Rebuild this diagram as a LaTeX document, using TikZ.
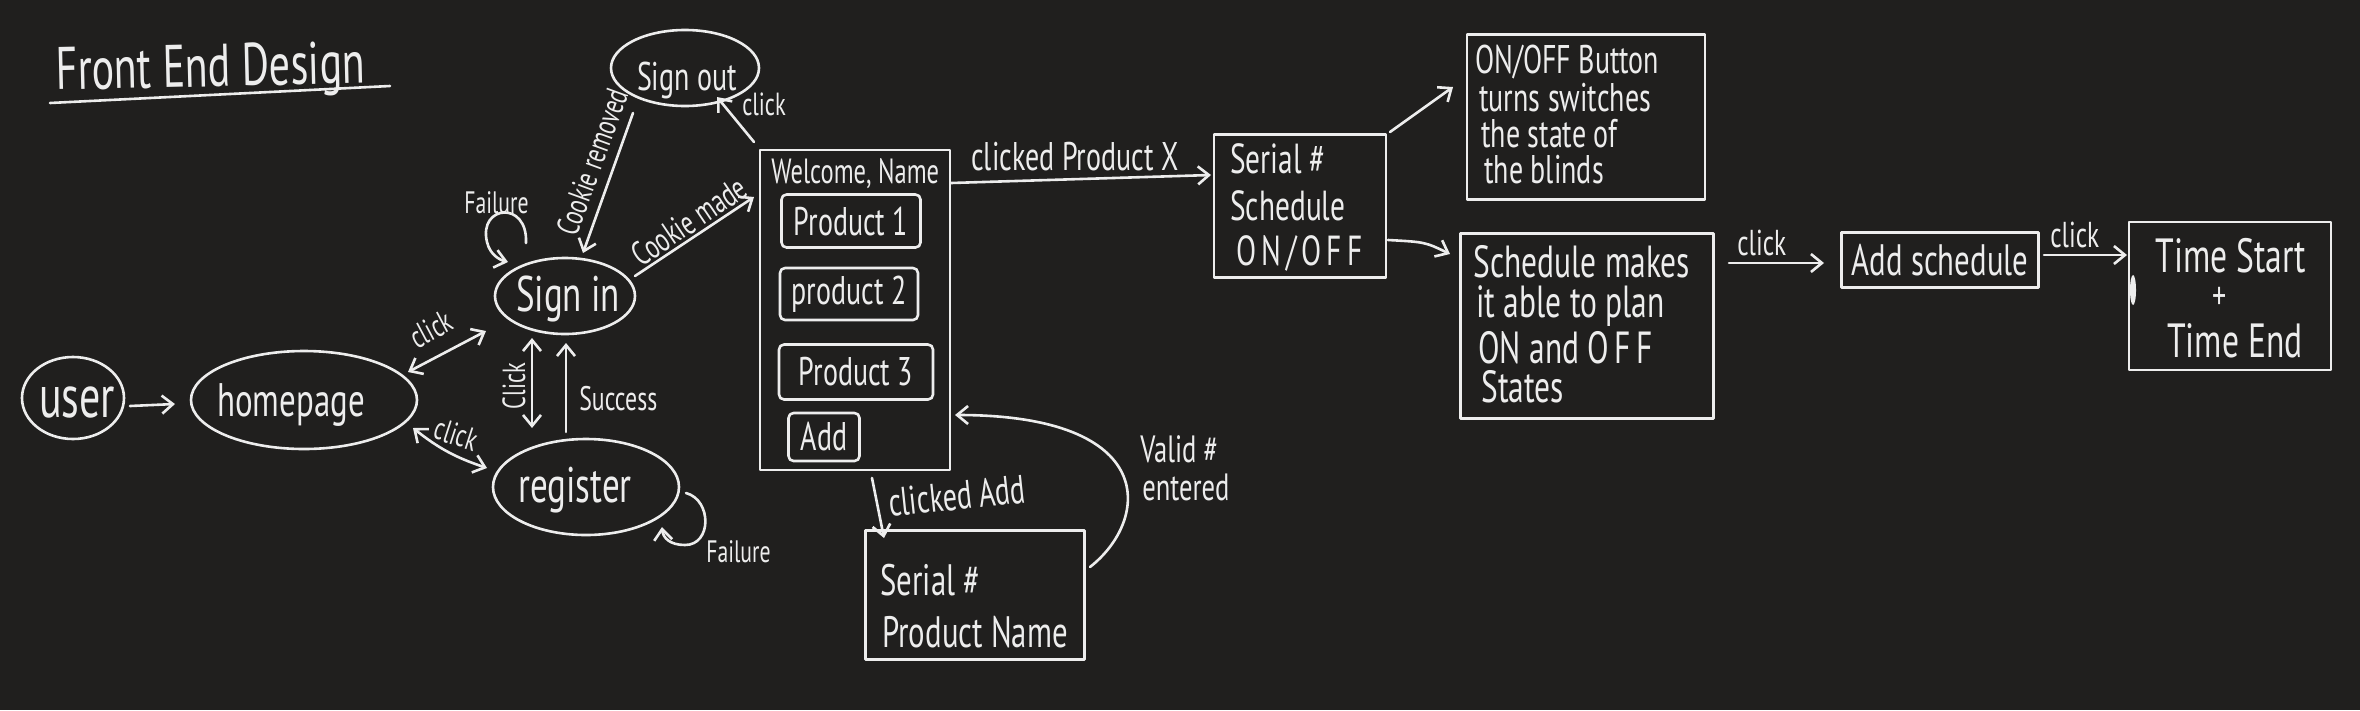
\documentclass[tikz,border=0pt]{standalone}
\usepackage{fontspec}
\setmainfont{PT Sans}[FakeStretch=0.7]
\usetikzlibrary{shapes.geometric,arrows.meta,calc}
\definecolor{bgc}{HTML}{201F1E}
\definecolor{ink}{HTML}{EDEDED}
\newcommand\hfsz[1]{\fontsize{#1}{#1}\selectfont}
\newcommand\spaced[1]{{\addfontfeature{LetterSpace=12}#1}}
\tikzset{
  txt/.style={text=ink, inner sep=0pt},
  ell/.style={ellipse, draw=ink, inner sep=0pt},
  box/.style={rectangle, draw=ink, inner sep=0pt, text=ink},
  pbox/.style={box, rounded corners=5pt},
  tip/.tip={Straight Barb[length=11pt,width=18pt]},
  arr/.style={-tip},
  darr/.style={tip-tip},
}
\begin{document}
\begin{tikzpicture}[x=1pt,y=-1pt, line width=2.6pt, draw=ink, line cap=round, line join=round]
\path[use as bounding box, fill=bgc] (0,0) rectangle (2360,710);

% title
\node[txt, font=\hfsz{60}, anchor=base west, rotate=1.3] (title) at (55,90) {Front End Design};
\draw ($(title.base west)+(-5,13)$) -- ($(title.base west)+(335,-4)$);

% ellipses
\node[ell, minimum width=102pt, minimum height=82pt] (user) at (73,398) {};
\node[txt, font=\hfsz{60}] (userT) at (77,402) {user};
\node[ell, minimum width=226pt, minimum height=98pt] (home) at (304,400) {};
\node[txt, font=\hfsz{47}] (homeT) at (291,405) {homepage};
\node[ell, minimum width=140pt, minimum height=76pt] (signin) at (565,296) {};
\node[txt, font=\hfsz{50}] (signinT) at (568,299) {Sign in};
\node[ell, minimum width=186pt, minimum height=96pt] (register) at (586,487) {};
\node[txt, font=\hfsz{50}] (registerT) at (575,490) {register};
\node[ell, minimum width=148pt, minimum height=76pt] (signout) at (685,68) {};
\node[txt, font=\hfsz{40}] (signoutT) at (687,80) {Sign out};

% welcome page
\node[box, minimum width=190pt, minimum height=320pt] (welcome) at (855,310) {};
\node[txt, font=\hfsz{35}, anchor=base west] (wtxt) at (770,183) {Welcome, Name};
\node[pbox, minimum width=139pt, minimum height=53pt, font=\hfsz{40}] (p1) at (851,221) {Product 1};
\node[pbox, minimum width=138pt, minimum height=52pt, font=\hfsz{40}] (p2) at (849,294) {product 2};
\node[pbox, minimum width=154pt, minimum height=55pt, font=\hfsz{40}] (p3) at (856,372) {Product 3};
\node[pbox, minimum width=71pt, minimum height=48pt, font=\hfsz{40}] (padd) at (824,437) {Add};

% serial / schedule box
\node[box, minimum width=172pt, minimum height=143pt] (serial) at (1300,206) {};
\node[txt, font=\hfsz{42}, anchor=base west] (s1) at (1229,173) {Serial \#};
\node[txt, font=\hfsz{42}, anchor=base west] (s2) at (1229,220) {Schedule};
\node[txt, font=\hfsz{42}, anchor=base west] (s3) at (1235,265) {\spaced{ON/OFF}};

% serial / product name box
\node[box, minimum width=219pt, minimum height=129pt] (serial2) at (975,595) {};
\node[txt, font=\hfsz{44}, anchor=base west] (t1) at (879,595) {Serial \#};
\node[txt, font=\hfsz{44}, anchor=base west] (t2) at (881,647) {Product Name};

% on/off box
\node[box, minimum width=238pt, minimum height=165pt] (onoff) at (1586,117) {};
\node[txt, font=\hfsz{40}, anchor=base west] (o1) at (1474,73) {ON/OFF Button};
\node[txt, font=\hfsz{40}, anchor=base west] (o2) at (1478,111) {turns switches};
\node[txt, font=\hfsz{40}, anchor=base west] (o3) at (1480,147) {the state of};
\node[txt, font=\hfsz{40}, anchor=base west] (o4) at (1483,183) {the blinds};

% schedule box
\node[box, minimum width=253pt, minimum height=185pt] (schedule) at (1587,326) {};
\node[txt, font=\hfsz{45}, anchor=base west] (c1) at (1472,277) {Schedule makes};
\node[txt, font=\hfsz{45}, anchor=base west] (c2) at (1475,317) {it able to plan};
\node[txt, font=\hfsz{45}, anchor=base west] (c3) at (1477,363) {ON and \spaced{OFF}};
\node[txt, font=\hfsz{45}, anchor=base west] (c4) at (1480,402) {States};

% add schedule
\node[box, minimum width=197pt, minimum height=55pt, font=\hfsz{44}] (addsched) at (1940,260) {Add schedule};

% time box
\node[box, minimum width=202pt, minimum height=148pt] (timebox) at (2230,296) {};
\node[txt, font=\hfsz{48}, anchor=base] (tm1) at (2231,272) {Time Start};
\node[txt, font=\hfsz{40}] (tm2) at (2220,298) {+};
\node[txt, font=\hfsz{48}, anchor=base] (tm3) at (2235,357) {Time End};
\fill[ink] ($(timebox)+(-97,-6)$) ellipse (3 and 15);

% connectors
\draw[arr] ($(user)+(57,8)$) -- ($(home)+(-129,4)$);

\draw[darr] ($(home)+(104,-28)$) -- ($(signin)+(-79,35)$);
\node[txt, font=\hfsz{32}, rotate=28] (lclick1) at (431,329) {click};

\draw[darr] ($(home)+(109,28)$) to[bend right=10] ($(register)+(-99,-19)$);
\node[txt, font=\hfsz{32}, rotate=-18] (lclick2) at (456,434) {click};

\draw[darr] ($(signin)+(-33,42)$) -- ($(register)+(-54,-59)$);
\node[txt, font=\hfsz{32}, rotate=90] (lclick3) at (514,386) {Click};

\draw[arr] ($(register)+(-20,-55)$) -- ($(signin)+(1,47)$);
\node[txt, font=\hfsz{34}, anchor=base west] (lsuccess) at (578,410) {Success};

\draw[arr] ($(signin)+(-39,-53)$) .. controls ($(signin)+(-37,-96)$) and ($(signin)+(-87,-91)$) .. ($(signin)+(-78,-54)$) .. controls ($(signin)+(-75,-41)$) and ($(signin)+(-65,-36)$) .. ($(signin)+(-57,-34)$);
\node[txt, font=\hfsz{31}, anchor=base west] (lfail1) at (463,213) {Failure};

\draw[arr] ($(register)+(100,6)$) .. controls ($(register)+(126,13)$) and ($(register)+(126,58)$) .. ($(register)+(99,58)$) .. controls ($(register)+(84,58)$) and ($(register)+(77,51)$) .. ($(register)+(76,40)$);
\node[txt, font=\hfsz{31}, anchor=base west] (lfail2) at (705,562) {Failure};

\draw[arr] ($(signout)+(-52,45)$) -- ($(signin)+(18,-43)$);
\node[txt, font=\hfsz{32}, rotate=70] (lcrem) at (592,162) {Cookie removed};

\draw[arr] ($(signin)+(70,-20)$) -- ($(welcome)+(-101,-113)$);
\node[txt, font=\hfsz{34}, rotate=34] (lcmade) at (689,221) {Cookie made};

\draw[arr] ($(welcome)+(-101,-168)$) -- ($(signout)+(32,29)$);
\node[txt, font=\hfsz{32}, anchor=base west] (lclick4) at (741,115) {click};

\draw[arr] ($(welcome)+(96,-127)$) -- ($(serial)+(-89,-31)$);
\node[txt, font=\hfsz{40}, anchor=base west] (lcpx) at (970,170) {clicked Product X};

\draw[arr] ($(welcome)+(17,168)$) -- ($(serial2)+(-91,-57)$);
\node[txt, font=\hfsz{40}, anchor=base west, rotate=6] (lcadd) at (889,517) {clicked Add};

\draw[arr] ($(serial2)+(115,-28)$) .. controls ($(serial2)+(175,-75)$) and ($(welcome)+(305,105)$) .. ($(welcome)+(100,105)$);
\node[txt, font=\hfsz{38}, anchor=base west] (lvalid) at (1139,462) {Valid \#};
\node[txt, font=\hfsz{38}, anchor=base west] (lentered) at (1141,500) {entered};

\draw[arr] ($(serial)+(90,-74)$) -- ($(onoff)+(-133,-30)$);
\draw[arr] ($(serial)+(88,34)$) .. controls ($(serial)+(125,36)$) .. ($(schedule)+(-137,-72)$);

\draw[arr] ($(schedule)+(142,-63)$) -- ($(addsched)+(-116,3)$);
\node[txt, font=\hfsz{36}, anchor=base west] (lclick5) at (1736,255) {click};

\draw[arr] ($(addsched)+(104,-5)$) -- ($(timebox)+(-103,-41)$);
\node[txt, font=\hfsz{36}, anchor=base west] (lclick6) at (2049,247) {click};
\end{tikzpicture}
\end{document}
